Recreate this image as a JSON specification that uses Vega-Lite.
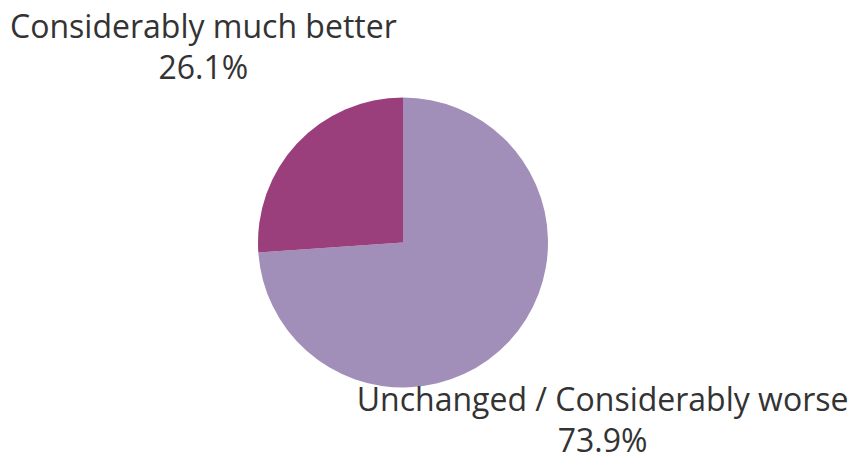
{
  "$schema": "https://vega.github.io/schema/vega-lite/v6.json",
  "width": 806,
  "height": 425,
  "autosize": {"type": "none"},
  "padding": {"left": 0, "right": 42, "top": 30, "bottom": 0},
  "background": "white",
  "config": {"view": {"stroke": null}, "font": "Open Sans"},
  "data": {
    "values": [
      {"category": "Unchanged / Considerably worse", "share": 0.739},
      {"category": "Considerably much better", "share": 0.261}
    ]
  },
  "encoding": {
    "theta": {"field": "share", "type": "quantitative", "stack": true},
    "color": {
      "field": "category",
      "type": "nominal",
      "sort": ["Unchanged / Considerably worse", "Considerably much better"],
      "scale": {"domain": ["Unchanged / Considerably worse", "Considerably much better"], "range": ["#a18fba", "#9b3f7c"]},
      "legend": null
    },
    "order": {"field": "share", "type": "quantitative", "sort": "descending"}
  },
  "layer": [
    {"mark": {"type": "arc", "outerRadius": 145}},
    {
      "mark": {"type": "text", "baseline": "alphabetic", "dy": -18, "fontSize": 32, "fill": "#333333"},
      "encoding": {
        "text": {"field": "category"},
        "color": {"value": "#333333"},
        "radius": {"condition": {"test": "datum.category == 'Considerably much better'", "value": 267}, "value": 273}
      }
    },
    {
      "mark": {"type": "text", "baseline": "alphabetic", "dy": 23, "fontSize": 32, "fill": "#333333"},
      "encoding": {
        "text": {"field": "share", "type": "quantitative", "format": ".1%"},
        "color": {"value": "#333333"},
        "radius": {"condition": {"test": "datum.category == 'Considerably much better'", "value": 267}, "value": 273}
      }
    }
  ]
}
